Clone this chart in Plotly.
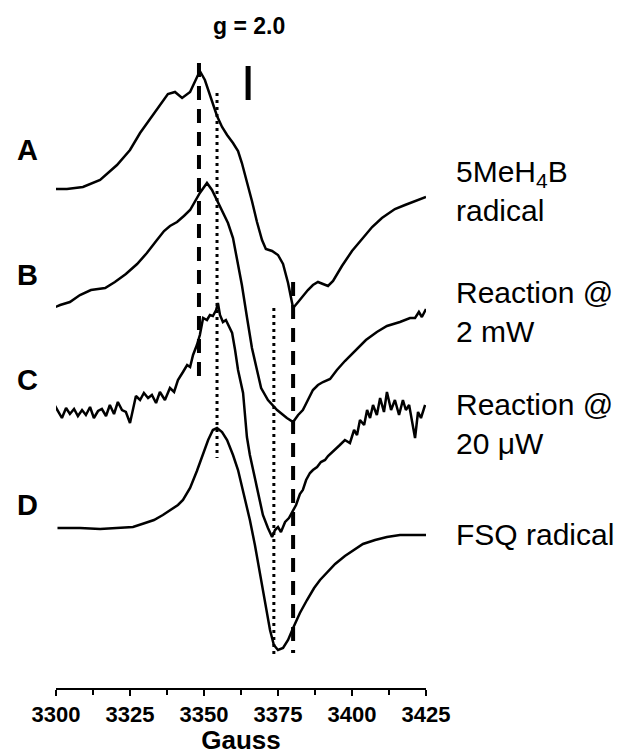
import plotly.graph_objects as go

# ---------------- data (field in Gauss, intensity in arbitrary stacked units) ----------------
field_A = [3300.0, 3303.7, 3309.1, 3314.9, 3320.6, 3325.0, 3328.4, 3331.8, 3335.1, 3337.8,
           3340.2, 3342.6, 3345.3, 3347.6, 3348.6, 3350.3, 3352.7, 3354.4, 3356.1, 3357.8,
           3359.8, 3361.5, 3362.8, 3364.5, 3366.2, 3367.9, 3369.6, 3370.9, 3373.0, 3375.0,
           3376.7, 3378.4, 3380.1, 3381.8, 3383.4, 3385.1, 3386.8, 3388.5, 3390.2, 3391.9,
           3393.6, 3396.6, 3400.0, 3403.7, 3406.8, 3410.1, 3414.5, 3417.9, 3421.3, 3425.0]
signal_A = [499, 499, 501, 508, 523, 538, 555, 569, 583, 594,
            596, 590, 596, 610, 617, 608, 588, 572, 561, 553,
            545, 537, 525, 507, 487, 466, 448, 439, 437, 433,
            424, 405, 380, 386, 392, 398, 403, 406, 404, 402,
            407, 422, 437, 450, 461, 470, 479, 483, 487, 491]

field_B = [3299.0, 3301.4, 3304.7, 3308.1, 3311.8, 3316.6, 3319.9, 3323.6, 3327.4, 3330.7,
           3334.1, 3336.5, 3338.5, 3340.9, 3343.2, 3345.3, 3348.6, 3351.0, 3352.7, 3354.4,
           3356.1, 3358.1, 3359.8, 3361.1, 3362.8, 3364.5, 3366.2, 3367.9, 3369.3, 3371.6,
           3374.7, 3378.0, 3380.1, 3381.8, 3383.4, 3385.1, 3386.8, 3388.5, 3390.2, 3392.6,
           3394.9, 3397.6, 3401.4, 3404.7, 3408.4, 3411.8, 3416.2, 3419.6, 3421.3, 3422.6,
           3423.6, 3425.0]
signal_B = [380, 383, 386, 393, 398, 400, 406, 414, 424, 435,
            448, 457, 462, 466, 472, 478, 495, 505, 498, 488,
            478, 465, 450, 431, 403, 371, 340, 318, 300, 288,
            278, 270, 266, 273, 278, 288, 298, 303, 306, 309,
            318, 327, 338, 348, 356, 362, 366, 370, 370, 376,
            371, 379]

field_C = [3299.5, 3300.7, 3302.0, 3303.4, 3304.7, 3306.1, 3307.4, 3308.8, 3310.1, 3311.5,
           3312.8, 3314.2, 3315.5, 3316.9, 3318.2, 3319.6, 3320.9, 3322.3, 3323.6, 3325.0,
           3326.0, 3327.0, 3328.4, 3329.7, 3331.1, 3332.4, 3333.8, 3335.1, 3336.8, 3338.5,
           3339.9, 3341.2, 3342.9, 3344.3, 3345.3, 3346.3, 3347.6, 3348.6, 3349.7, 3351.0,
           3352.0, 3353.0, 3354.1, 3354.7, 3355.4, 3356.4, 3357.4, 3358.4, 3359.5, 3360.5,
           3361.5, 3363.2, 3364.5, 3365.5, 3366.6, 3368.2, 3369.9, 3371.6, 3373.0, 3374.0,
           3375.0, 3376.0, 3377.4, 3378.7, 3380.1, 3381.1, 3382.4, 3383.4, 3384.5, 3385.8,
           3386.8, 3388.2, 3389.5, 3390.9, 3391.9, 3393.9, 3395.9, 3397.6, 3399.3, 3400.7,
           3401.7, 3402.7, 3404.1, 3405.1, 3406.1, 3407.1, 3408.4, 3409.5, 3410.8, 3411.8,
           3413.2, 3414.5, 3415.9, 3417.2, 3418.2, 3419.3, 3420.3, 3421.3, 3422.3, 3423.3,
           3424.7]
signal_C = [283, 276, 270, 280, 274, 279, 272, 278, 273, 281,
            270, 277, 279, 272, 283, 274, 286, 278, 276, 265,
            278, 292, 288, 295, 290, 293, 285, 296, 288, 300,
            296, 308, 316, 323, 321, 333, 343, 353, 370, 368,
            373, 372, 378, 385, 373, 366, 368, 362, 355, 338,
            318, 295, 251, 233, 218, 196, 173, 160, 151, 158,
            161, 156, 166, 170, 178, 183, 194, 198, 208, 215,
            218, 221, 226, 228, 232, 238, 243, 248, 245, 258,
            253, 268, 263, 278, 270, 283, 273, 290, 276, 296,
            278, 288, 273, 288, 278, 283, 268, 250, 276, 270,
            283]

field_D = [3300.5, 3308.1, 3314.9, 3321.6, 3326.0, 3330.1, 3333.1, 3336.1, 3338.5, 3341.2,
           3342.9, 3345.3, 3347.6, 3349.7, 3351.4, 3353.0, 3354.4, 3356.1, 3357.8, 3359.8,
           3361.5, 3363.5, 3365.5, 3367.2, 3368.9, 3370.6, 3372.3, 3373.6, 3375.0, 3376.7,
           3378.4, 3380.1, 3382.4, 3384.8, 3387.2, 3389.2, 3391.6, 3394.3, 3397.6, 3401.0,
           3403.7, 3407.8, 3411.8, 3416.2, 3421.3, 3425.0]
signal_D = [160, 160, 159, 160, 161, 165, 168, 173, 178, 183,
            188, 200, 217, 233, 248, 258, 260, 256, 248, 233,
            218, 193, 168, 143, 116, 86, 58, 43, 38, 40,
            48, 60, 75, 88, 100, 108, 116, 124, 132, 139,
            144, 148, 151, 153, 153, 153]

# reference markers: field position, top, bottom, style
ref_field = [3348.3, 3354.4, 3380.1, 3373.6, 3364.9]
ref_top = [625, 595, 406, 380, 622]
ref_bottom = [305, 230, 35, 33, 588]
ref_style = ["dashed", "dotted", "dashed", "dotted", "bar"]

panel_letters = ["A", "B", "C", "D"]
panel_letter_y = [538, 413, 308, 183]
panel_names = ["5MeH<sub>4</sub>B<br>radical", "Reaction @<br>2 mW",
               "Reaction @<br>20 μW", "FSQ radical"]
panel_name_y = [497, 376, 264, 154]

tick_vals = [3300, 3325, 3350, 3375, 3400, 3425]
tick_text = ["3300", "3325", "3350", "3375", "3400", "3425"]

FONT = "Liberation Sans, Arial, Helvetica, sans-serif"

fig = go.Figure()

for fx, sy in [(field_A, signal_A), (field_B, signal_B), (field_C, signal_C), (field_D, signal_D)]:
    fig.add_trace(go.Scatter(x=fx, y=sy, mode="lines",
                             line=dict(color="black", width=2.5),
                             showlegend=False, hoverinfo="skip"))

style_map = {
    "dashed": dict(color="black", width=4, dash="14px,9px"),
    "dotted": dict(color="black", width=3, dash="3px,4px"),
    "bar": dict(color="black", width=5),
}
for f, t, b, s in zip(ref_field, ref_top, ref_bottom, ref_style):
    fig.add_trace(go.Scatter(x=[f, f], y=[t, b], mode="lines",
                             line=style_map[s], showlegend=False, hoverinfo="skip"))

annotations = []
for letter, y in zip(panel_letters, panel_letter_y):
    annotations.append(dict(x=-0.078, y=y, xref="paper", yref="y", text=letter,
                            showarrow=False, xanchor="center", yanchor="middle",
                            font=dict(family=FONT, size=29, color="black", weight="bold")))
for name, y in zip(panel_names, panel_name_y):
    annotations.append(dict(x=1.075, y=y, xref="paper", yref="y", text=name,
                            showarrow=False, xanchor="left", yanchor="middle", align="left",
                            font=dict(family=FONT, size=30, color="black")))
annotations.append(dict(x=3365.2, y=662, xref="x", yref="y", text="g = 2.0",
                        showarrow=False, xanchor="center", yanchor="middle",
                        font=dict(family=FONT, size=23, color="black", weight="bold")))

fig.update_layout(
    width=626, height=755,
    margin=dict(l=56, r=200, t=0, b=67, pad=0),
    paper_bgcolor="white", plot_bgcolor="white",
    annotations=annotations,
    xaxis=dict(range=[3300, 3425], showgrid=False, zeroline=False,
               showline=True, linecolor="black", linewidth=2,
               ticks="outside", ticklen=6, tickwidth=2, tickcolor="black",
               tickvals=tick_vals, ticktext=tick_text,
               tickfont=dict(family=FONT, size=22, color="black", weight="bold"),
               minor=dict(ticks="outside", ticklen=5, tickwidth=2, tickcolor="black", dtick=12.5),
               title=dict(text="Gauss", standoff=6,
                          font=dict(family=FONT, size=26, color="black", weight="bold"))),
    yaxis=dict(range=[0, 688], visible=False, fixedrange=True),
)

fig.write_html("out.html")
